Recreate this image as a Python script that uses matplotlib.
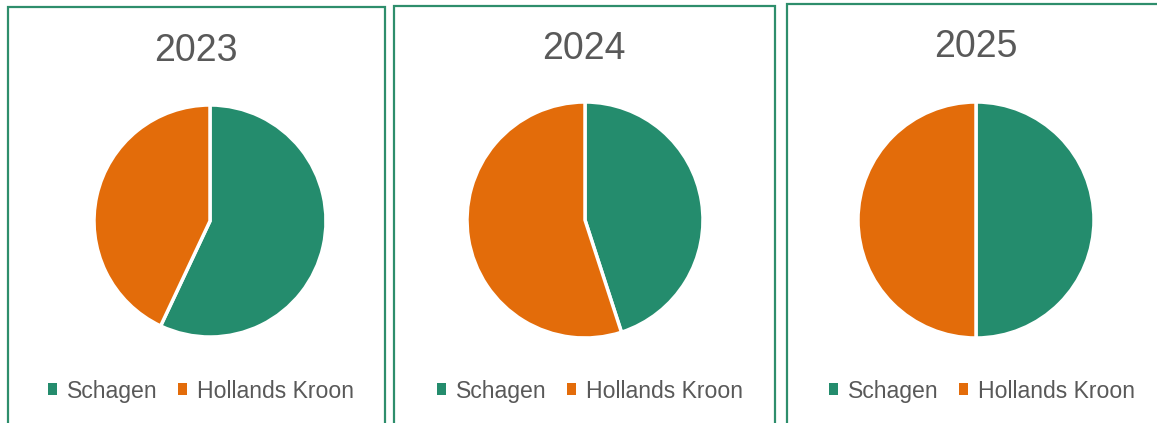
import matplotlib.pyplot as plt
from matplotlib.patches import Rectangle, Patch

plt.rcParams['font.family'] = ['Liberation Sans', 'DejaVu Sans']

# Data (share per municipality, %)
years = ['2023', '2024', '2025']
schagen = [57, 45, 50]
hollands_kroon = [43, 55, 50]
labels = ['Schagen', 'Hollands Kroon']

green = '#248C6D'
orange = '#E36C0A'
grey = '#595959'

W, H = 1157, 423
fig = plt.figure(figsize=(W / 100, H / 100), dpi=100)

# panel layout in pixels: (left, top, right), pie centre and radius
panels = [(8, 7, 385), (394, 6, 775), (787, 4, 1175)]
centres = [(210, 221), (585, 220), (976, 220)]
radii = [116, 118, 118]
title_pos = [(196, 51), (584, 49), (976, 47)]
legend_x = [201, 590, 982]

for i, year in enumerate(years):
    left, top, right = panels[i]
    fig.patches.append(Rectangle((left / W, -0.1), (right - left) / W, 1.1 - top / H,
                                 transform=fig.transFigure, fill=False,
                                 edgecolor='#2E8E6C', linewidth=1.6, clip_on=False))

    cx, cy = centres[i]
    r = radii[i]
    ax = fig.add_axes([(cx - r) / W, 1 - (cy + r) / H, 2 * r / W, 2 * r / H])
    wedges, _ = ax.pie([schagen[i], hollands_kroon[i]], colors=[green, orange],
                       startangle=90, counterclock=False,
                       wedgeprops=dict(edgecolor='white', linewidth=2.5))
    for w in wedges:
        w.set_clip_on(False)
    ax.set_xlim(-1, 1)
    ax.set_ylim(-1, 1)
    ax.set_aspect('equal')

    tx, ty = title_pos[i]
    fig.text(tx / W, 1 - ty / H, year, ha='center', va='center',
             fontsize=27, color=grey)

    handles = [Patch(facecolor=green), Patch(facecolor=orange)]
    fig.legend(handles, labels, loc='center', ncol=2, frameon=False,
               bbox_to_anchor=(legend_x[i] / W, 1 - 391 / H),
               fontsize=16.6, labelcolor=grey, handlelength=0.4,
               handleheight=0.4, handletextpad=0.45, columnspacing=0.85)

fig.savefig('out.png', dpi=100)
